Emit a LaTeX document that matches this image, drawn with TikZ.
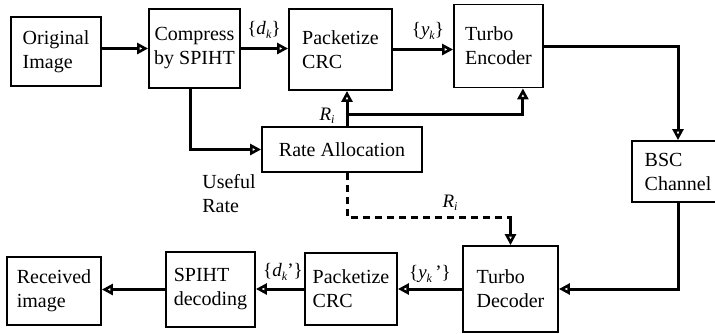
\documentclass[tikz,border=0pt]{standalone}
\usepackage{fontspec}
\setmainfont{Liberation Serif}
\usetikzlibrary{arrows.meta,calc}
\newcommand\lowsub[1]{\raisebox{-0.4ex}{\fontsize{12}{12}\selectfont\textit{#1}}}
\begin{document}
\begin{tikzpicture}[x=1pt,y=-1pt,
  blk/.style={draw, line width=1.8pt, align=left, inner sep=0pt,
    font=\fontsize{20}{24}\selectfont},
  lbl/.style={inner sep=0pt, font=\fontsize{19}{23}\selectfont},
  flow/.style={line width=3pt, -{Triangle[open,length=11pt,width=11pt,line width=2.6pt]}},
  link/.style={line width=3pt},
  dashlink/.style={line width=3pt, dash pattern=on 7pt off 5pt}]
\useasboundingbox (0,0) rectangle (715,333);

% transmitter chain
\node[blk, minimum width=90pt, minimum height=69pt] (orig) at (56,51.5) {Original\\Image};
\node[blk, minimum width=91pt, minimum height=79pt, align=center] (comp) at (194.5,48.5) {Compress\\by SPIHT};
\node[blk, minimum width=103pt, minimum height=81pt] (pack) at (340.5,49.5) {Packetize\\CRC};
\node[blk, minimum width=89pt, minimum height=83pt] (enc) at (498.5,46) {Turbo\\Encoder};
\node[blk, minimum width=160pt, minimum height=45pt] (rate) at (342,149.5) {Rate Allocation};
\node[blk, minimum width=92pt, minimum height=61pt] (bsc) at (678,171.5) {BSC\\Channel};

% receiver chain
\node[blk, minimum width=95pt, minimum height=86pt] (dec) at (510.5,289) {Turbo\\Decoder};
\node[blk, minimum width=92pt, minimum height=72pt] (pack2) at (351,289) {Packetize\\CRC};
\node[blk, minimum width=89pt, minimum height=75pt] (spiht) at (210.5,289.5) {SPIHT\\decoding};
\node[blk, minimum width=94pt, minimum height=68pt] (recv) at (54,291) {Received\\image};

% labels
\node[lbl] (ldk) at (264,30) {\{\textit{d}\lowsub{k}\}};
\node[lbl] (lyk) at (428,31) {\{\textit{y}\lowsub{k}\}};
\node[lbl] (lri) at (327,116) {\textit{R}\lowsub{i}};
\node[lbl, align=left, font=\fontsize{20}{24}\selectfont] (luse) at (229,194) {Useful\\Rate};
\node[lbl] (lri2) at (450,203) {\textit{R}\lowsub{i}};
\node[lbl] (lyk2) at (430,274) {\{\textit{y}\lowsub{k}\,'\}};
\node[lbl] (ldk2) at (283,272) {\{\textit{d}\lowsub{k}'\}};

% branch points
\coordinate (rfork) at (347,114);
\coordinate (dfork) at (347,217);

% forward path
\draw[flow] (orig.east |- comp.west) -- (comp.west);
\draw[flow] (comp.east) -- (comp.east -| pack.west);
\draw[flow] (pack.east) -- (pack.east -| enc.west);
\draw[flow] (enc.east) -| (bsc.north);
\draw[flow] (bsc.south) |- (dec.east);
\draw[flow] (dec.west) -- (dec.west -| pack2.east);
\draw[flow] (pack2.west) -- (pack2.west -| spiht.east);
\draw[flow] (spiht.west) -- (spiht.west -| recv.east);

% rate control
\draw[flow] ($(comp.south)+(-4.5,0)$) |- (rate.west);
\draw[link] (rate.north -| rfork) -- (rfork);
\draw[flow] (rfork) -- (pack.south -| rfork);
\draw[flow] (rfork) -| ($(enc.south east)+(-21,0)$);
\draw[dashlink] (rate.south -| dfork) -- (dfork) -- (dfork -| dec.north);
\draw[flow] ($(dfork -| dec.north)+(-1.5,0)$) -- ++(1.5,0) -- (dec.north);
\end{tikzpicture}
\end{document}
